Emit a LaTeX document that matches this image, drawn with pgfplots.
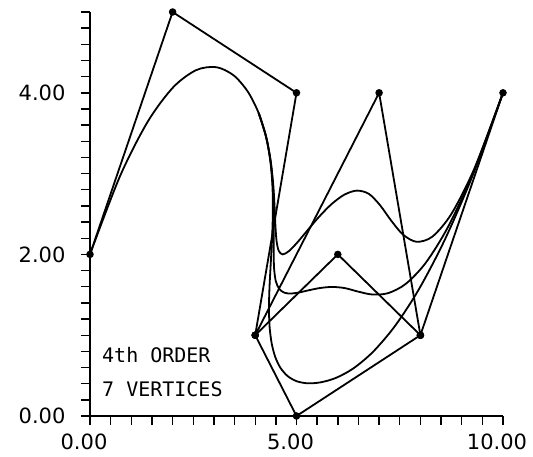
\documentclass[border=0pt]{standalone}
\usepackage{pgfplots}
\pgfplotsset{compat=1.18}
\usepackage{fontspec}
\setmainfont{DejaVu Sans}
\newfontfamily\monofont{DejaVu Sans Mono}
\begin{document}
\begin{tikzpicture}
\useasboundingbox (-90pt,-40pt) rectangle (443pt,416pt);
\begin{axis}[
  at={(0,0)}, anchor=south west,
  scale only axis, width=413pt, height=404pt,
  xmin=0, xmax=10, ymin=0, ymax=5,
  axis x line=bottom, axis y line=left,
  axis line style={-, line width=1.6pt},
  xtick={0,5,10}, xticklabels={0.00,5.00,10.00},
  ytick={0,2,4}, yticklabels={0.00,2.00,4.00},
  minor xtick={0.5,1,1.5,2,2.5,3,3.5,4,4.5,5.5,6,6.5,7,7.5,8,8.5,9,9.5},
  minor ytick={0.2,0.4,0.6,0.8,1,1.2,1.4,1.6,1.8,2.2,2.4,2.6,2.8,3,3.2,3.4,3.6,3.8,4.2,4.4,4.6,4.8,5},
  tick align=outside,
  major tick length=9pt, minor tick length=9pt,
  every tick/.style={black, line width=1.4pt},
  ticklabel style={font=\fontsize{21}{21}\selectfont},
  xticklabel style={yshift=-5pt, xshift=-6pt},
  yticklabel style={xshift=-12pt},
  clip=false,
]
% control polygons
\addplot[black, line width=1.8pt, mark=*, mark size=2.8pt] coordinates {
(0,2) (2,5) (5,4) (4,1) (5,0) (8,1) (10,4)};
\addplot[black, line width=1.8pt, mark=*, mark size=2.8pt] coordinates {
(4,1) (6,2) (8,1)};
\addplot[black, line width=1.8pt, mark=*, mark size=2.8pt] coordinates {
(4,1) (7,4) (8,1)};
% B-spline curves (vertex 5 at (5,0), (6,2), (7,4))
\addplot[black, line width=1.8pt, smooth, no marks] coordinates {
(0,2) (0.7257,2.9673) (1.3997,3.6445) (2.0171,4.0698) (2.5729,4.2813) (3.0623,4.3169) (3.4805,4.2148) (3.8224,4.0132) (4.0833,3.75)
(4.2615,3.4582) (4.3685,3.1497) (4.4188,2.8315) (4.4271,2.5104) (4.4081,2.1932) (4.3763,1.8867) (4.3465,1.5978) (4.3333,1.3333)
(4.3494,1.0991) (4.3997,0.8971) (4.4871,0.7284) (4.6146,0.5938) (4.7850,0.4943) (5.0013,0.4310) (5.2664,0.4048) (5.5833,0.4167)
(5.9543,0.4715) (6.3789,0.5898) (6.8563,0.7961) (7.3854,1.1146) (7.9653,1.5698) (8.5951,2.1862) (9.2736,2.9881) (10,4)};
\addplot[black, line width=1.8pt, smooth, no marks] coordinates {
(4.0833,3.75)
(4.2619,3.4588) (4.3711,3.1550) (4.4276,2.8491) (4.4479,2.5521) (4.4487,2.2746) (4.4466,2.0273) (4.4582,1.8211) (4.5,1.6667)
(4.5853,1.5708) (4.7136,1.5247) (4.8809,1.5158) (5.0833,1.5313) (5.3170,1.5584) (5.5781,1.5846) (5.8626,1.5972) (6.1667,1.5833)
(6.4886,1.5402) (6.8359,1.5039) (7.2184,1.5204) (7.6458,1.6354) (8.1279,1.8950) (8.6745,2.3451) (9.2952,3.0314) (10,4)};
\addplot[black, line width=1.8pt, smooth, no marks] coordinates {
(4.0833,3.75)
(4.2622,3.4595) (4.3737,3.1602) (4.4364,2.8667) (4.4688,2.5938) (4.4894,2.3560) (4.5169,2.1680) (4.5698,2.0444) (4.6667,2.0)
(4.8211,2.0425) (5.0273,2.1523) (5.2746,2.3032) (5.5521,2.4688) (5.8491,2.6226) (6.1550,2.7383) (6.4588,2.7896) (6.75,2.75)
(7.0229,2.6089) (7.2930,2.4180) (7.5806,2.2446) (7.9063,2.1563) (8.2905,2.2202) (8.7539,2.5039) (9.3169,3.0747) (10,4)};
\node[anchor=base west, inner sep=0pt, font=\monofont\fontsize{20}{20}\selectfont] at (axis cs:0.29,0.667) {4th ORDER};
\node[anchor=base west, inner sep=0pt, font=\monofont\fontsize{20}{20}\selectfont] at (axis cs:0.29,0.247) {7 VERTICES};
\end{axis}
\end{tikzpicture}
\end{document}
